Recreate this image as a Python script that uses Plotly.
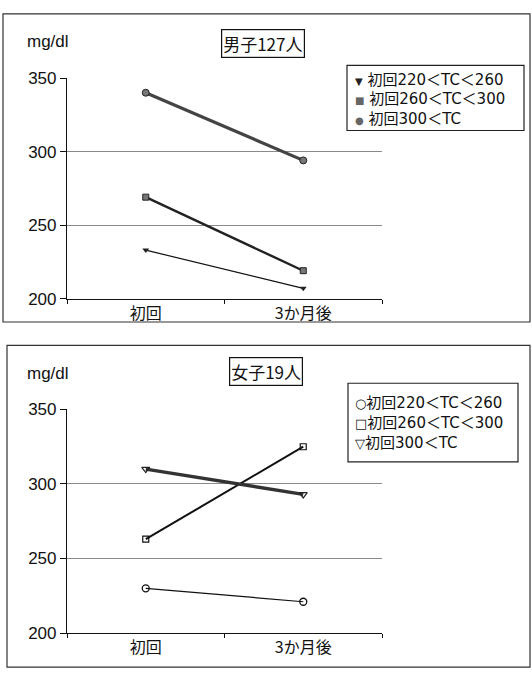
import plotly.graph_objects as go

W, H = 532, 679

categories = ["初回", "3か月後"]
y_ticks = [200, 250, 300, 350]

# Boys (男子127人)
boys_220_260 = [233, 207]
boys_260_300 = [269, 219]
boys_300 = [340, 294]

# Girls (女子19人)
girls_220_260 = [230, 221]
girls_260_300 = [263, 325]
girls_300 = [310, 293]

boys_title = "男子127人"
girls_title = "女子19人"
unit_label = "mg/dl"
legend_labels = ["初回220＜TC＜260", "初回260＜TC＜300", "初回300＜TC"]


def px(x):
    return x / W


def py(y):
    return 1 - y / H


CJK = "Noto Sans CJK JP"
LAT = "Liberation Sans"
LEG = "DejaVu Sans, Noto Sans CJK JP"

fig = go.Figure()

# ---- Boys traces
fig.add_trace(go.Scatter(x=categories, y=boys_220_260, mode="lines+markers",
                         line=dict(color="#111", width=1.2),
                         marker=dict(symbol="triangle-down", size=6, color="#222"),
                         xaxis="x", yaxis="y", showlegend=False))
fig.add_trace(go.Scatter(x=categories, y=boys_260_300, mode="lines+markers",
                         line=dict(color="#222", width=2.4),
                         marker=dict(symbol="square", size=6, color="#777",
                                     line=dict(color="#222", width=1)),
                         xaxis="x", yaxis="y", showlegend=False))
fig.add_trace(go.Scatter(x=categories, y=boys_300, mode="lines+markers",
                         line=dict(color="#444", width=3.2),
                         marker=dict(symbol="circle", size=7, color="#777",
                                     line=dict(color="#222", width=1)),
                         xaxis="x", yaxis="y", showlegend=False))

# ---- Girls traces
fig.add_trace(go.Scatter(x=categories, y=girls_220_260, mode="lines+markers",
                         line=dict(color="#111", width=1.2),
                         marker=dict(symbol="circle-open", size=7, color="#111",
                                     line=dict(width=1.3)),
                         xaxis="x2", yaxis="y2", showlegend=False))
fig.add_trace(go.Scatter(x=categories, y=girls_260_300, mode="lines+markers",
                         line=dict(color="#111", width=2),
                         marker=dict(symbol="square-open", size=6, color="#111",
                                     line=dict(width=1.2)),
                         xaxis="x2", yaxis="y2", showlegend=False))
fig.add_trace(go.Scatter(x=categories, y=girls_300, mode="lines+markers",
                         line=dict(color="#333", width=3.4),
                         marker=dict(symbol="triangle-down-open", size=7, color="#222",
                                     line=dict(width=1.2)),
                         xaxis="x2", yaxis="y2", showlegend=False))

xdom = [px(67), px(382)]
common_x = dict(type="category", range=[-0.5, 1.5], showline=True, linecolor="#111",
                linewidth=1.2, ticks="outside", tickson="boundaries", ticklen=4,
                tickcolor="#111", showgrid=False, zeroline=False,
                tickfont=dict(family=CJK, size=16, color="#111"))
common_y = dict(range=[200, 350], tickvals=y_ticks, showline=True, linecolor="#111",
                linewidth=1.2, ticks="outside", ticklen=6, tickcolor="#111",
                showgrid=True, gridcolor="#8a8a8a", gridwidth=1, zeroline=False,
                tickfont=dict(family=LAT, size=17, color="#111"))

fig.update_layout(
    width=W, height=H,
    margin=dict(l=0, r=0, t=0, b=0),
    paper_bgcolor="white", plot_bgcolor="white",
    showlegend=False,
    xaxis=dict(domain=xdom, anchor="y", **common_x),
    yaxis=dict(domain=[py(298), py(71)], anchor="x", **common_y),
    xaxis2=dict(domain=xdom, anchor="y2", **common_x),
    yaxis2=dict(domain=[py(642), py(412)], anchor="x2", **common_y),
)

# Panel borders
fig.add_shape(type="rect", xref="paper", yref="paper",
              x0=px(3), x1=px(530), y0=py(322), y1=py(5),
              line=dict(color="#333", width=1.2), layer="below")
fig.add_shape(type="rect", xref="paper", yref="paper",
              x0=px(7), x1=px(530), y0=py(677), y1=py(346),
              line=dict(color="#333", width=1.2), layer="below")

# Unit labels
for yy in (33, 375):
    fig.add_annotation(text=unit_label, xref="paper", yref="paper",
                       x=px(25), y=py(yy), xanchor="left", yanchor="middle",
                       showarrow=False, font=dict(family=LAT, size=17, color="#111"))

# Title boxes
fig.add_annotation(text=boys_title, xref="paper", yref="paper",
                   x=px(263), y=py(36), xanchor="center", yanchor="middle",
                   showarrow=False, font=dict(family=CJK, size=17, color="#111"),
                   bordercolor="#111", borderwidth=1.2, borderpad=1, bgcolor="white")
fig.add_annotation(text=girls_title, xref="paper", yref="paper",
                   x=px(266), y=py(373), xanchor="center", yanchor="middle",
                   showarrow=False, font=dict(family=CJK, size=17, color="#111"),
                   bordercolor="#111", borderwidth=1.2, borderpad=1, bgcolor="white")

# Legend boxes (white box covering gridlines, drawn above plot)
fig.add_shape(type="rect", xref="paper", yref="paper",
              x0=px(347), x1=px(524), y0=py(125), y1=py(58),
              line=dict(color="#222", width=1.2), fillcolor="white", layer="above")
fig.add_shape(type="rect", xref="paper", yref="paper",
              x0=px(348), x1=px(518), y0=py(466), y1=py(385),
              line=dict(color="#222", width=1.2), fillcolor="white", layer="above")

boys_syms = [("▼", "#222", 10), ("■", "#666", 10), ("●", "#666", 10)]
girls_syms = [("○", "#111", 13), ("□", "#111", 13), ("▽", "#111", 13)]

for i, ((s, c, fs), t) in enumerate(zip(boys_syms, legend_labels)):
    fig.add_annotation(
        text=f"<span style='font-size:{fs}px;color:{c}'>{s}</span> {t}",
        xref="paper", yref="paper", x=px(353), y=py(73 + 20 * i),
        xanchor="left", yanchor="middle", align="left", showarrow=False,
        font=dict(family=LEG, size=15, color="#111"))

for i, ((s, c, fs), t) in enumerate(zip(girls_syms, legend_labels)):
    fig.add_annotation(
        text=f"<span style='font-size:{fs}px;color:{c}'>{s}</span>{t}",
        xref="paper", yref="paper", x=px(353), y=py(405 + 21 * i),
        xanchor="left", yanchor="middle", align="left", showarrow=False,
        font=dict(family=LEG, size=15, color="#111"))

fig.write_html("out.html")
